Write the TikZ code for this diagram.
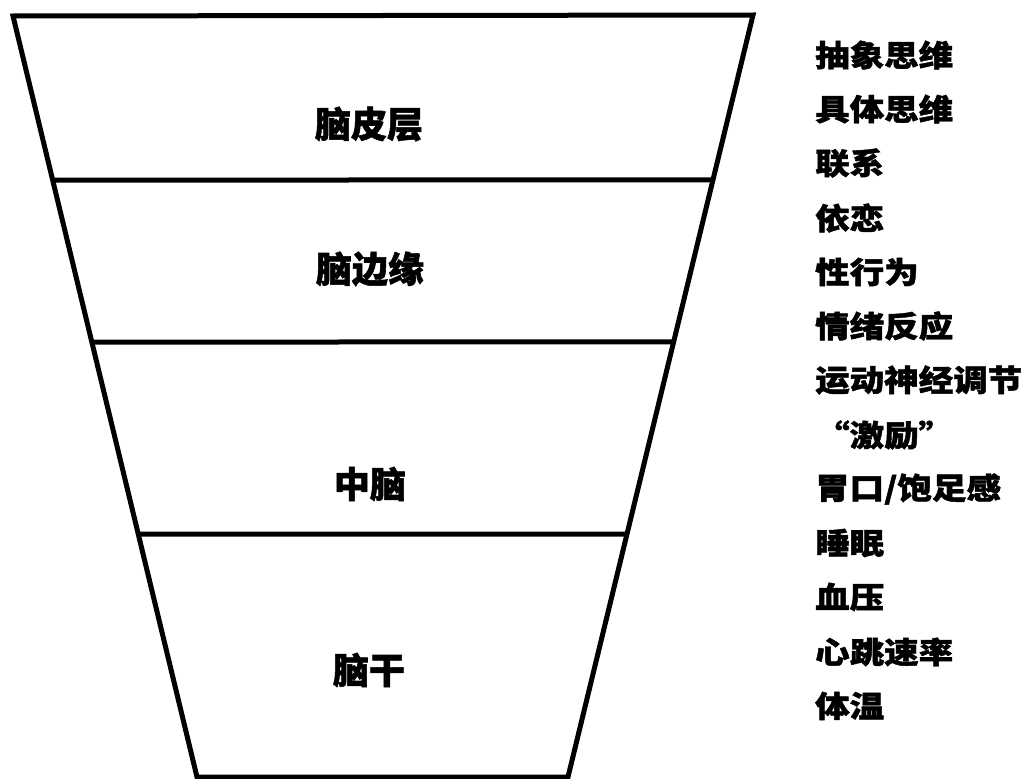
\documentclass[tikz,border=0pt]{standalone}
\usepackage{fontspec}
\newfontfamily\cjk{Noto Sans CJK SC}[FakeBold=1.5]
\newfontfamily\cjkwide{Noto Sans CJK SC}[FakeStretch=1.15,FakeBold=1.5]
\usetikzlibrary{calc}
\tikzset{
  edgeline/.style={line width=5pt, line join=miter},
  divider/.style={line width=5pt},
  layer/.style={font=\cjk\bfseries\fontsize{36}{36}\selectfont, inner sep=0pt},
  fn/.style={font=\cjkwide\bfseries\fontsize{30}{30}\selectfont, anchor=west, inner sep=0pt},
}
\begin{document}
\begin{tikzpicture}[x=1pt,y=-1pt]
\useasboundingbox (0,0) rectangle (1023,779);
% trapezoid corners
\coordinate (TL) at (13,16);
\coordinate (TR) at (753,15);
\coordinate (BR) at (568,777);
\coordinate (BL) at (197,777);
\draw[edgeline] (TL) -- (TR) -- (BR) -- (BL) -- cycle;
% dividers
\coordinate (L1) at ($(TL)!0.2157!(BL)$);
\coordinate (R1) at ($(TR)!0.2163!(BR)$);
\coordinate (L2) at ($(TL)!0.4284!(BL)$);
\coordinate (R2) at ($(TR)!0.4291!(BR)$);
\coordinate (L3) at ($(TL)!0.6807!(BL)$);
\coordinate (R3) at ($(TR)!0.6811!(BR)$);
\draw[divider] (L1) -- (R1);
\draw[divider] (L2) -- (R2);
\draw[divider] (L3) -- (R3);
% layer labels
\node[layer] (cortex) at (369,124) {脑皮层};
\node[layer] (limbic) at (370,269) {脑边缘};
\node[layer] (mid) at (370,484) {中脑};
\node[layer] (stem) at (369,670) {脑干};
% function list
\node[fn] (f1) at (815,55) {抽象思维};
\node[fn] (f2) at (815,109) {具体思维};
\node[fn] (f3) at (815,163) {联系};
\node[fn] (f4) at (815,218) {依恋};
\node[fn] (f5) at (815,272) {性行为};
\node[fn] (f6) at (815,326) {情绪反应};
\node[fn] (f7) at (815,380) {运动神经调节};
\node[fn] (f8) at (815,435) {“激励”};
\node[fn] (f9) at (815,489) {胃口/饱足感};
\node[fn] (f10) at (815,543) {睡眠};
\node[fn] (f11) at (815,597) {血压};
\node[fn] (f12) at (815,652) {心跳速率};
\node[fn] (f13) at (815,706) {体温};
\end{tikzpicture}
\end{document}
